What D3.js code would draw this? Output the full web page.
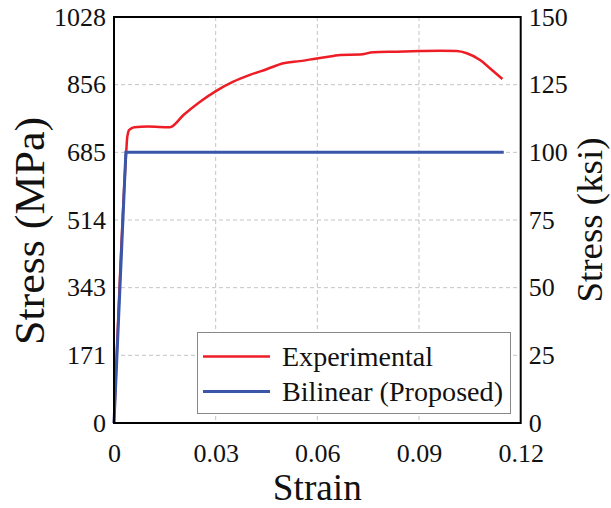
<!DOCTYPE html>
<html>
<head>
<meta charset="utf-8">
<script src="https://cdn.jsdelivr.net/npm/d3@7"></script>
<style>
  html, body { margin: 0; padding: 0; background: #fff; }
  svg { display: block; }
  svg text { font-family: "Times New Roman", Times, "Liberation Serif", "DejaVu Serif", "Noto Serif", Tinos, serif; fill: #111; }
</style>
</head>
<body>
<svg id="chart" width="611" height="508"></svg>
<script>
// ---- data (strain, stress in ksi) ----
const expStrain = [0, 0.0036, 0.0039, 0.0045, 0.006, 0.010, 0.0165, 0.0205, 0.0254, 0.0303, 0.0352, 0.0401, 0.045, 0.050, 0.0549, 0.0598, 0.0647, 0.0667, 0.0726, 0.0765, 0.0834, 0.0903, 0.0962, 0.1011, 0.1041, 0.108, 0.111, 0.1146];
const expStress = [0, 100, 105.5, 108.3, 109.3, 109.5, 109.3, 113.8, 118.7, 122.8, 126.1, 128.6, 130.7, 132.9, 133.7, 134.7, 135.6, 136.0, 136.1, 137.0, 137.2, 137.4, 137.5, 137.4, 136.6, 134.1, 131.0, 127.1];
const bilStrain = [0, 0.0035, 0.1150];
const bilStress = [0, 100, 100];

const xTicks = [0, 0.03, 0.06, 0.09, 0.12];
const xTickLabels = ["0", "0.03", "0.06", "0.09", "0.12"];
const ksiTicks = [0, 25, 50, 75, 100, 125, 150];
const mpaTickLabels = ["0", "171", "343", "514", "685", "856", "1028"];
const ksiTickLabels = ["0", "25", "50", "75", "100", "125", "150"];
const seriesNames = ["Experimental", "Bilinear (Proposed)"];
const seriesColors = ["#ee1c25", "#3a56a8"];

// ---- layout ----
const L = 114, R = 520.7, T = 17, B = 423;
const svg = d3.select("#chart");
const x = d3.scaleLinear().domain([0, 0.12]).range([L, R]);
const y = d3.scaleLinear().domain([0, 150]).range([B, T]);

// width of a numeric label in a Times-like face (digits 0.5em, '.' 0.25em)
const numWidth = (s, size) => s.split("").reduce((a, c) => a + (c === "." ? 0.25 : 0.5), 0) * size;
const fit = (sel, w) => sel.attr("textLength", w).attr("lengthAdjust", "spacingAndGlyphs");

// grid
const grid = svg.append("g").attr("stroke", "#c4c4c4").attr("stroke-width", 1).attr("stroke-dasharray", "4,3");
grid.selectAll(".gx").data(xTicks.slice(1, -1)).enter().append("line")
  .attr("x1", d => x(d)).attr("x2", d => x(d)).attr("y1", T).attr("y2", B);
grid.selectAll(".gy").data(ksiTicks.slice(1, -1)).enter().append("line")
  .attr("x1", L).attr("x2", R).attr("y1", d => y(d)).attr("y2", d => y(d));

// lines
const expData = expStrain.map((s, i) => [s, expStress[i]]);
const bilData = bilStrain.map((s, i) => [s, bilStress[i]]);
svg.append("path").datum(expData)
  .attr("d", d3.line().x(d => x(d[0])).y(d => y(d[1])).curve(d3.curveMonotoneX))
  .attr("fill", "none").attr("stroke", seriesColors[0]).attr("stroke-width", 2.5).attr("stroke-linejoin", "round");
svg.append("path").datum(bilData)
  .attr("d", d3.line().x(d => x(d[0])).y(d => y(d[1])))
  .attr("fill", "none").attr("stroke", seriesColors[1]).attr("stroke-width", 3);

// legend
const lg = svg.append("g");
lg.append("rect").attr("x", 197.5).attr("y", 332.5).attr("width", 313).attr("height", 81)
  .attr("fill", "#fff").attr("stroke", "#888").attr("stroke-width", 1);
const legendWidths = [151, 221];
seriesNames.forEach((name, i) => {
  const yy = 356.5 + i * 35;
  lg.append("line").attr("x1", 203).attr("x2", 270).attr("y1", yy).attr("y2", yy)
    .attr("stroke", seriesColors[i]).attr("stroke-width", i === 0 ? 2.5 : 3);
  fit(lg.append("text").attr("x", 282).attr("y", yy + 9).attr("font-size", 27).text(name), legendWidths[i]);
});

// frame
svg.append("rect").attr("x", L).attr("y", T).attr("width", R - L).attr("height", B - T)
  .attr("fill", "none").attr("stroke", "#000").attr("stroke-width", 2);

// axes (labels only, using d3 axes)
const TS = 25;
const styleTicks = g => {
  g.select(".domain").remove();
  g.attr("font-family", null).attr("font-size", null);
  g.selectAll("text").attr("font-size", TS).attr("fill", "#111")
    .each(function() { fit(d3.select(this), numWidth(this.textContent, 26)); });
};
const gx = svg.append("g").attr("transform", `translate(0,${B})`)
  .call(d3.axisBottom(x).tickValues(xTicks).tickFormat((d, i) => xTickLabels[i]).tickSize(0).tickPadding(21));
styleTicks(gx);

const gyl = svg.append("g").attr("transform", `translate(${L},0)`)
  .call(d3.axisLeft(y).tickValues(ksiTicks).tickFormat((d, i) => mpaTickLabels[i]).tickSize(0).tickPadding(8));
styleTicks(gyl);

const gyr = svg.append("g").attr("transform", `translate(${R},0)`)
  .call(d3.axisRight(y).tickValues(ksiTicks).tickFormat((d, i) => ksiTickLabels[i]).tickSize(0).tickPadding(8));
styleTicks(gyr);

// titles
fit(svg.append("text").attr("x", (L + R) / 2).attr("y", 500).attr("text-anchor", "middle")
  .attr("font-size", 37).text("Strain"), 89);
fit(svg.append("text").attr("transform", "translate(44,231) rotate(-90)").attr("text-anchor", "middle")
  .attr("font-size", 43).text("Stress (MPa)"), 228);
fit(svg.append("text").attr("transform", "translate(602,220) rotate(-90)").attr("text-anchor", "middle")
  .attr("font-size", 35).text("Stress (ksi)"), 165);
</script>
</body>
</html>
